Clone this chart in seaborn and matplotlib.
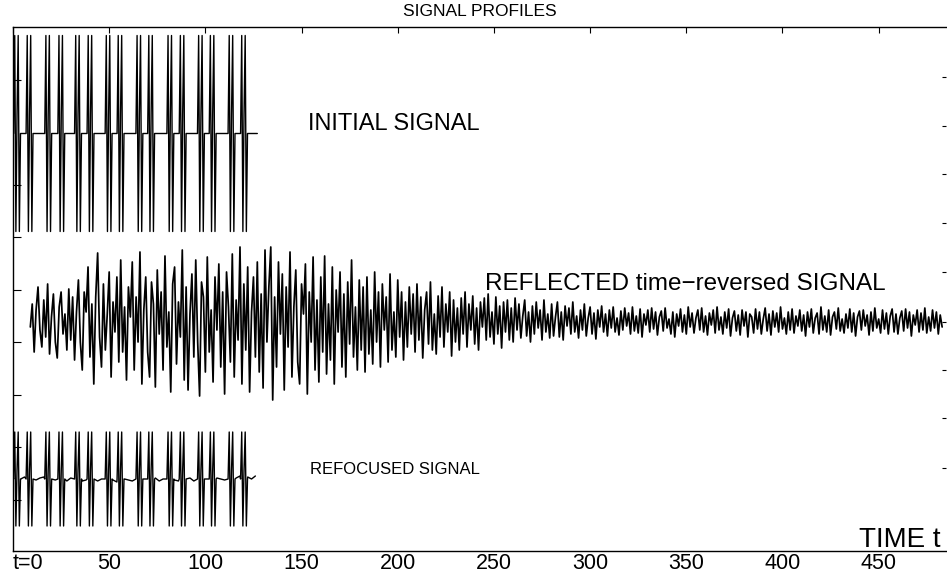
import numpy as np
import pandas as pd
import matplotlib
matplotlib.use('Agg')
import matplotlib.pyplot as plt
import seaborn as sns

sns.set_style('white')
plt.rcParams['font.family'] = ['Liberation Sans', 'DejaVu Sans']
plt.rcParams.update({
    'text.color': 'black',
    'xtick.color': 'black',
    'ytick.color': 'black',
    'axes.edgecolor': 'black',
})

# ---- data ----
# start of each pulse (time units), same pulse train for the initial and refocused signal
pulse_times = [0.3, 6.8, 16.5, 23.3, 32.0, 38.5, 47.9, 54.1,
               63.9, 70.0, 80.0, 86.4, 95.9, 102.0, 111.8, 118.3]
# one pulse, sampled every PULSE_STEP
pulse_shape = [0, 1, -1, 0.2, 1, -1, 0]
PULSE_STEP = 0.6
INITIAL_AMP = 0.98
REFOCUS_AMP = 0.47
SIGNAL_END = 127

# refocused baseline wiggle, one value every 2 time units from t=0 (x0.01)
refocus_ripple = [2, 3, 0, 2, 1, 3, -1, 1, 2, 0, 1, -1, 2, 0, -2, 1,
                  -1, 0, -2, -1, -3, -1, -2, 0, -3, -2, -1, -3, -2, 0, -1, -2,
                  1, -1, 0, -2, -1, 1, -2, 0, -1, -3, -1, -2, 0, -1, 1, -2,
                  -3, -1, 0, -2, -1, 1, 0, -1, 2, 0, 1, 3, -1, 2, 0, 3]
RIPPLE_STEP = 2

# reflected time-reversed signal, one value per time unit from t=9 (x0.01)
reflected = [
    -5, 18, -30, 12, 35, -8, -25, 22, -15, 38, -32, 5, 28, -20, -36, 15, 30, -12, 8, -28, 33, -18, 25, -38, 10,
    42, -20, -48, 30, 10, 55, -35, 18, -62, 25, 69, -15, -45, 38, -28, 8, 50, -55, 20, -10, 45, -40, 62, -30, 15,
    -58, 35, 5, 60, -48, 25, -20, 70, -62, 12, 45, -30, -55, 40, 18, -65, 52, -12, 30, -48, 66, -25, 10, -70, 38,
    55, -42, 20, -15, 72, -58, 35, -68, 8, 48, -35, 62, -20, -74, 40, 25, -50, 65, -30, 12, -60, 45, -8, 58, -45,
    30, -72, 50, 15, -40, 68, -55, 22, -18, 75, -62, 38, -28, 55, -70, 10, 45, -35, 60, -50, 28, -66, 72, -20, 35,
    75, -78, 25, -45, 60, -12, 48, -68, 35, -25, 70, -55, 15, 52, -40, -62, 38, 8, 58, -72, 30, -20, 65, -48, 22,
    -60, 45, -30, 66, -52, 18, -38, 55, -62, 32, -10, 50, -45, 28, -55, 40, -22, 62, -35, 15, -48, 42, -28, 35, -50,
    45, -32, 12, -42, 50, -20, 30, -45, 38, -8, 25, -40, 48, -28, 10, -35, 42, -15, 30, -38, 20, -25, 35, -12, 28,
    -30, 38, -18, 25, -36, 12, 30, -22, 40, -28, 8, -32, 26, -15, 35, -25, 18, -10, 30, -34, 22, -20, 14, -28, 24,
    -12, 30, -25, 18, -8, 26, -22, 14, -28, 20, -5, 24, -18, 28, -15, 10, -22, 25, -12, 16, -26, 20, -10, 22, -18,
    14, -20, 24, -8, 18, -16, 6, 22, -14, 10, -20, 16, -12, 20, -6, 12, -18, 22, -10, 8, -16, 18, -14, 5, 20,
    -15, 10, -18, 16, -4, 14, -12, 20, -10, 6, -16, 12, -8, 18, -14, 4, 15, -12, 9, -17, 12, -5, 16, -10, 8,
    -14, 12, -6, 15, -10, 4, -13, 11, -8, 14, -4, 9, -12, 15, -9, 6, -11, 13, -15, 8, -3, 12, -10, 14, -7,
    10, -13, 5, 11, -9, 14, -6, 3, -12, 10, -15, 8, -4, 13, -10, 7, -12, 15, -5, 9, -11, 4, 12, -8, 14,
    -10, 6, -13, 9, -3, 12, -11, 15, -8, 5, -12, 10, -6, 13, -14, 4, 11, -9, 7, -13, 12, -4, 10, -15, 8,
    5, -11, 13, -7, 10, -12, 3, 14, -9, 8, -13, 11, -5, 9, -10, 15, -7, 4, -12, 10, -8, 13, -11, 6, -4,
    12, -9, 7, -14, 10, -5, 13, -11, 4, 9, -12, 15, -8, 6, -10, 12, -13, 5, 10, -7, 14, -9, 3, -11, 8,
    -6, 13, -10, 9, -14, 5, 11, -8, 12, -4, 7, -13, 10, -9, 14, -6, 3, -11, 12, -7, 9, -12, 6, 13, -10,
    8, -12, 4, 11, -9, 13, -6, 10, -14, 7, -3, 12, -10, 9, -8, 14, -11, 5, -9, 12, -6, 10, -12, 7, -5,
]
REFLECT_T0 = 9

xtick_vals = [0, 50, 100, 150, 200, 250, 300, 350, 400, 450]
xtick_labels = ['t=0', '50', '100', '150', '200', '250', '300', '350', '400', '450']

# vertical layout (axes units, 1 = 100 px)
Y_TOP = 5.24
INITIAL_Y0 = 4.175
REFLECT_Y0 = 2.29
REFOCUS_Y0 = 0.72
left_ticks = [4.71, 3.66, 3.14, 2.61, 2.09, 1.56, 1.04, 0.51]
right_ticks = [4.74, 4.25, 3.77, 3.28, 2.79, 2.29, 1.81, 1.33, 0.83]


def pulse_train(amp, base_t, base_v):
    width = PULSE_STEP * (len(pulse_shape) - 1)
    pts = [(t, v) for t, v in zip(base_t, base_v)
           if not any(p <= t <= p + width for p in pulse_times)]
    for p in pulse_times:
        for k, s in enumerate(pulse_shape):
            pts.append((p + k * PULSE_STEP, amp * s))
    pts.sort()
    return pd.DataFrame(pts, columns=['t', 'v'])


initial = pulse_train(INITIAL_AMP, [0, SIGNAL_END], [0, 0])
initial['y'] = initial['v'] + INITIAL_Y0

rip_t = [k * RIPPLE_STEP for k in range(len(refocus_ripple))]
refocused = pulse_train(REFOCUS_AMP, rip_t, [r / 100 for r in refocus_ripple])
refocused['y'] = refocused['v'] + REFOCUS_Y0

refl = pd.DataFrame({'t': REFLECT_T0 + np.arange(len(reflected)),
                     'v': np.array(reflected) / 100})
refl['y'] = refl['v'] + REFLECT_Y0

# ---- figure ----
fig = plt.figure(figsize=(9.47, 5.83), dpi=100)
ax = fig.add_axes([13 / 947, 32 / 583, 933 / 947, 524 / 583])

for df, lw in ((initial, 1.0), (refl, 1.25), (refocused, 1.0)):
    sns.lineplot(data=df, x='t', y='y', estimator=None, sort=False,
                 color='black', lw=lw, ax=ax)

ax.set_xlim(0, 485)
ax.set_ylim(0, Y_TOP)
ax.set_xlabel('')
ax.set_ylabel('')
ax.set_xticks(xtick_vals)
ax.set_xticklabels(xtick_labels)
ax.xaxis.get_ticklabels()[0].set_horizontalalignment('left')
ax.tick_params(axis='x', direction='in', length=4.5, width=0.8, top=True,
               labelsize=15.5, pad=1.5, color='black', labelcolor='black')
ax.set_yticks(left_ticks)
ax.set_yticklabels([])
ax.tick_params(axis='y', direction='in', length=6, width=0.8, color='black')
for side in ('left', 'top', 'bottom'):
    ax.spines[side].set_color('black')
    ax.spines[side].set_linewidth(1.0)
ax.spines['right'].set_visible(False)

ax2 = ax.twinx()
ax2.set_ylim(0, Y_TOP)
ax2.set_yticks(right_ticks)
ax2.set_yticklabels([])
ax2.tick_params(axis='y', direction='in', length=3, width=0.8, color='black')
for side in ax2.spines:
    ax2.spines[side].set_visible(False)

ax.text(153.5, 4.27, 'INITIAL SIGNAL', fontsize=17, va='center', ha='left',
        color='black')
ax.text(245.5, 2.67, 'REFLECTED time\u2212reversed SIGNAL', fontsize=17.5,
        va='center', ha='left', color='black')
ax.text(154.5, 0.81, 'REFOCUSED SIGNAL', fontsize=12, va='center', ha='left',
        color='black')
ax.text(482, 0.04, 'TIME t', fontsize=20, va='baseline', ha='right',
        color='black')

fig.text(480 / 947, 1 - 12 / 583, 'SIGNAL PROFILES', fontsize=12.5,
         ha='center', va='center', color='black')

fig.savefig('out.png', dpi=100)
